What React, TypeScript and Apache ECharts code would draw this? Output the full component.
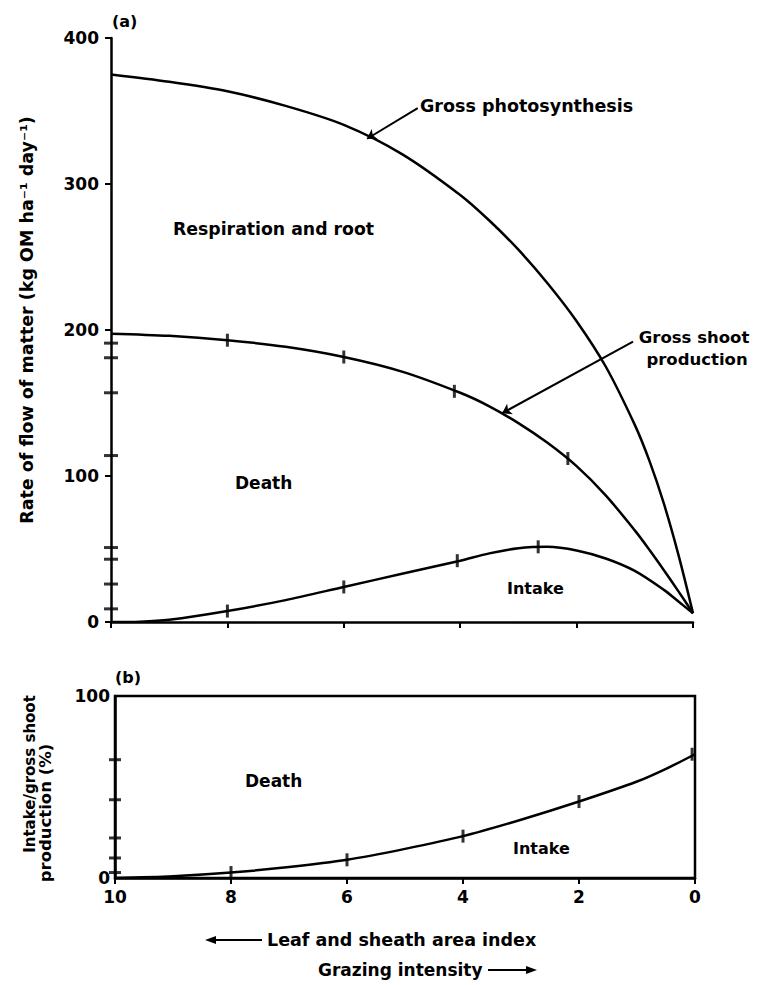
import React, { useEffect, useRef } from "react";
import * as echarts from "echarts";

// ---- Data ----
const xTicks = [10, 8, 6, 4, 2, 0];

const curveX = [10, 9, 8, 7, 6, 5, 4, 3.5, 3, 2.5, 2, 1.5, 1, 0.75, 0.5, 0.25, 0];
const grossPhotosynthesis = [375, 370, 363.5, 353.5, 340.5, 320.5, 292.5, 275, 255, 232, 206, 175, 135, 110.5, 81, 46, 6];
const grossShootProduction = [197.5, 196, 193, 188.5, 181.5, 171.5, 157, 147.75, 136.25, 122.75, 106.75, 86.75, 62.75, 49.5, 35.5, 21, 6];

const intakeX = [10, 9.5, 9, 8, 7, 6, 5, 4, 3.5, 3, 2.5, 2, 1.5, 1, 0.5, 0.25, 0];
const intake = [0, 0.2, 1.5, 7.5, 15, 24, 33, 42, 47, 50.5, 51.5, 49, 43.5, 35, 22, 14, 6];

// observation marks on the curves (panel a)
const shootMarkX = [8, 6, 4.1, 2.15];
const shootMarkY = [193, 181.5, 158, 112];
const intakeMarkX = [8, 6, 4.05, 2.66];
const intakeMarkY = [7.5, 24, 42, 51.5];
// observation marks on the y axis at LAI 10 (panel a)
const axisMarksA = [191, 181, 157, 114, 51, 43, 26, 9];

// panel b: intake / gross shoot production (%)
const pctX = [10, 9, 8, 7, 6, 5, 4, 3, 2, 1, 0.5, 0];
const pct = [0, 1, 3, 6, 10, 16, 23, 32, 42, 53, 60, 68];
const pctMarkX = [8, 6, 4, 2, 0.05];
const pctMarkY = [3, 10, 23, 42, 68];
const axisMarksB = [65, 43, 22, 11, 3];

// arrows (data coords): [fromX, fromY, toX, toY]
const photoArrow = [4.73, 352, 5.6, 331];
const shootArrow = [1.03, 192, 3.28, 143];

const FONT = '"DejaVu Sans", sans-serif';

function pairs(xs: number[], ys: number[]) {
  return xs.map((x, i) => [x, ys[i]]);
}

export default function App() {
  const ref = useRef<HTMLDivElement>(null);

  useEffect(() => {
    if (!ref.current) return;
    const chart = echarts.init(ref.current, null, { renderer: "svg" });

    const lineStyle = { color: "#000", width: 2.5 };
    const baseLine = (name: string, data: number[][], axis: number, extra: any = {}) => ({
      name,
      type: "line",
      xAxisIndex: axis,
      yAxisIndex: axis,
      data,
      smooth: 0.3,
      showSymbol: false,
      symbol: "none",
      lineStyle,
      silent: true,
      ...extra,
    });
    const marks = (name: string, data: number[][], axis: number, size: number[]) => ({
      name,
      type: "scatter",
      xAxisIndex: axis,
      yAxisIndex: axis,
      data,
      symbol: "rect",
      symbolSize: size,
      itemStyle: { color: "#000" },
      silent: true,
      z: 5,
    });
    const arrowML = (a: number[]) => ({
      silent: true,
      symbol: ["none", "arrow"],
      symbolSize: 9,
      label: { show: false },
      lineStyle: { color: "#000", width: 2, type: "solid" },
      data: [[{ coord: [a[0], a[1]] }, { coord: [a[2], a[3]] }]],
    });

    const txt = (text: string, x: number, y: number, size = 17, align = "left", rotation = 0) => ({
      type: "text",
      x,
      y,
      rotation,
      style: {
        text,
        x: 0,
        y: 0,
        fill: "#000",
        fontSize: size,
        fontWeight: "bold",
        fontFamily: FONT,
        textAlign: align,
        textVerticalAlign: "middle",
      },
    });

    const axisLabelStyle = { color: "#000", fontSize: 17, fontWeight: "bold", fontFamily: FONT };

    chart.setOption({
      animation: false,
      backgroundColor: "#fff",
      grid: [
        { left: 111, top: 38, width: 582, height: 584 },
        {
          left: 115,
          top: 696,
          width: 580,
          height: 182,
          show: true,
          borderColor: "#000",
          borderWidth: 2.5,
          backgroundColor: "transparent",
        },
      ],
      xAxis: [
        {
          gridIndex: 0,
          type: "value",
          min: 0,
          max: 10,
          interval: 2,
          inverse: true,
          axisLine: { onZero: false, lineStyle: { color: "#000", width: 2.5 } },
          axisTick: { show: true, inside: false, length: 6, lineStyle: { color: "#000", width: 2 } },
          axisLabel: { show: false },
          splitLine: { show: false },
        },
        {
          gridIndex: 1,
          type: "value",
          min: 0,
          max: 10,
          interval: 2,
          inverse: true,
          axisLine: { onZero: false, lineStyle: { color: "#000", width: 2.5 } },
          axisTick: { show: true, inside: false, length: 6, lineStyle: { color: "#000", width: 2 } },
          axisLabel: {
            ...axisLabelStyle,
            margin: 10,
            formatter: (v: number) => (xTicks.includes(v) ? String(v) : ""),
          },
          splitLine: { show: false },
        },
      ],
      yAxis: [
        {
          gridIndex: 0,
          type: "value",
          position: "left",
          min: 0,
          max: 400,
          interval: 100,
          axisLine: { show: true, onZero: false, lineStyle: { color: "#000", width: 2.5 } },
          axisTick: { show: true, inside: false, length: 6, lineStyle: { color: "#000", width: 2 } },
          axisLabel: { ...axisLabelStyle, margin: 12 },
          splitLine: { show: false },
        },
        {
          gridIndex: 1,
          type: "value",
          position: "left",
          min: 0,
          max: 100,
          interval: 100,
          axisLine: { show: true, onZero: false, lineStyle: { color: "#000", width: 2.5 } },
          axisTick: { show: false },
          axisLabel: { ...axisLabelStyle, margin: 5 },
          splitLine: { show: false },
        },
      ],
      series: [
        baseLine("Gross photosynthesis", pairs(curveX, grossPhotosynthesis), 0, {
          markLine: arrowML(photoArrow),
        }),
        baseLine("Gross shoot production", pairs(curveX, grossShootProduction), 0, {
          markLine: arrowML(shootArrow),
        }),
        baseLine("Intake", pairs(intakeX, intake), 0),
        marks("Shoot marks", pairs(shootMarkX, shootMarkY), 0, [3, 13]),
        marks("Intake marks", pairs(intakeMarkX, intakeMarkY), 0, [3, 13]),
        marks("Axis marks a", axisMarksA.map((v) => [10, v]), 0, [14, 3]),
        baseLine("Intake/gross shoot production", pairs(pctX, pct), 1),
        marks("Pct marks", pairs(pctMarkX, pctMarkY), 1, [3, 13]),
        marks("Axis marks b", axisMarksB.map((v) => [10, v]), 1, [12, 3]),
      ],
      graphic: [
        txt("(a)", 112, 21, 16),
        txt("Gross photosynthesis", 420, 106, 17.5),
        txt("Respiration and root", 173, 229, 17.3),
        txt("Gross shoot", 694, 337, 16.5, "center"),
        txt("production", 697, 359, 16.5, "center"),
        txt("Death", 235, 483, 17),
        txt("Intake", 507, 588, 16),
        txt("(b)", 115, 677, 16),
        txt("Death", 245, 781, 17),
        txt("Intake", 513, 848, 16),
        txt("Rate of flow of matter (kg OM ha⁻¹ day⁻¹)", 27, 320, 17.5, "center", Math.PI / 2),
        txt("Intake/gross shoot", 30, 774, 15, "center", Math.PI / 2),
        txt("production (%)", 45, 813, 16.5, "center", Math.PI / 2),
        txt("Leaf and sheath area index", 267, 940, 17.5),
        txt("Grazing intensity", 318, 970, 17),
        {
          type: "line",
          shape: { x1: 212, y1: 940, x2: 262, y2: 940 },
          style: { stroke: "#000", lineWidth: 2 },
        },
        {
          type: "polygon",
          shape: { points: [[205, 940], [216, 936], [216, 944]] },
          style: { fill: "#000" },
        },
        {
          type: "line",
          shape: { x1: 488, y1: 970, x2: 530, y2: 970 },
          style: { stroke: "#000", lineWidth: 2 },
        },
        {
          type: "polygon",
          shape: { points: [[537, 970], [526, 966], [526, 974]] },
          style: { fill: "#000" },
        },
      ],
    });

    return () => chart.dispose();
  }, []);

  return (
    <div
      ref={ref}
      style={{ position: "absolute", left: 0, top: 0, width: 764, height: 985, background: "#fff" }}
    />
  );
}
